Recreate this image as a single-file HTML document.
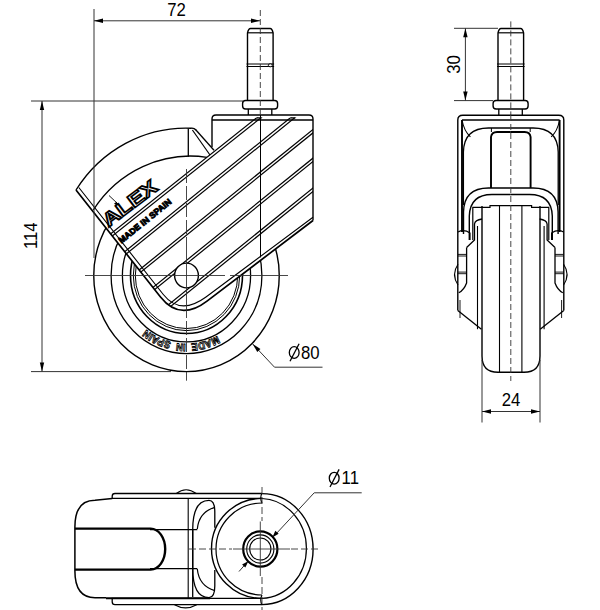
<!DOCTYPE html>
<html><head><meta charset="utf-8"><style>
html,body{margin:0;padding:0;background:#fff;width:600px;height:610px;overflow:hidden}
svg{display:block}
</style></head><body>
<svg width="600" height="610" viewBox="0 0 600 610">
<ellipse cx="186.50" cy="275.50" rx="92.75" ry="96.09" stroke="#000" stroke-width="1.4" fill="none" />
<ellipse cx="186.50" cy="275.50" rx="75.40" ry="78.11" stroke="#000" stroke-width="1.3" fill="none" />
<ellipse cx="186.50" cy="275.50" rx="64.10" ry="66.41" stroke="#000" stroke-width="1.3" fill="none" />
<ellipse cx="186.50" cy="275.50" rx="56.00" ry="58.02" stroke="#000" stroke-width="1.6" fill="none" />
<ellipse cx="186.50" cy="275.50" rx="53.20" ry="55.12" stroke="#000" stroke-width="1.0" fill="none" />
<ellipse cx="186.50" cy="275.50" rx="51.20" ry="53.04" stroke="#000" stroke-width="1.0" fill="none" />
<path id="arcMS" d="M252.50,275.5 A66.0,68.38 0 0 1 120.50,275.5" fill="none"/>
<text font-family="Liberation Sans" font-weight="bold" font-size="10.5" fill="#fff" stroke="#000" stroke-width="0.9" word-spacing="3"><textPath href="#arcMS" startOffset="52.7%" text-anchor="middle" textLength="76" lengthAdjust="spacingAndGlyphs">MADE IN SPAIN</textPath></text>
<path d="M76,190 A131,135.7 0 0 1 193.6,128 L214,150.3 L212,147 L212,117.5 L313,117.5 L313,220.50 L207.0,301.06 Q180.0,321.7 160.5,297.0 Z" stroke="#000" stroke-width="0" fill="#fff" stroke="none"/>
<clipPath id="bodyclip"><path d="M76,190 A131,135.7 0 0 1 193.6,128 L214,150.3 L212,147 L212,117.5 L313,117.5 L313,220.50 L207.0,301.06 Q180.0,321.7 160.5,297.0 Z"/></clipPath>
<path d="M76,190 A131,135.7 0 0 1 191,128.2 Q194,127.8 196,130" stroke="#000" stroke-width="1.4" fill="none" />
<line x1="195.50" y1="129.50" x2="214.00" y2="150.30" stroke="#000" stroke-width="1.3" />
<line x1="192.40" y1="130.00" x2="210.00" y2="155.00" stroke="#000" stroke-width="1.2" />
<line x1="188.30" y1="128.70" x2="188.30" y2="156.70" stroke="#000" stroke-width="1.3" />
<path d="M93.3,210 A116.7,120.9 0 0 1 207,157.3" stroke="#000" stroke-width="1.3" fill="none" />
<path d="M212,147 L212,119 Q212,115 216,115 L309,115 Q313,115 313,119 L313,220.50" stroke="#000" stroke-width="1.4" fill="none" />
<line x1="212.00" y1="120.00" x2="313.00" y2="120.00" stroke="#000" stroke-width="1.3" />
<g clip-path="url(#bodyclip)"><line x1="40" y1="290.02" x2="420" y2="-12.13" stroke="#000" stroke-width="1.2"/><line x1="41.68" y1="292.13" x2="421.68" y2="-10.01" stroke="#000" stroke-width="1.2"/><line x1="40" y1="320.19" x2="420" y2="12.97" stroke="#000" stroke-width="1.2"/><line x1="41.70" y1="322.29" x2="421.70" y2="15.07" stroke="#000" stroke-width="1.2"/><line x1="40" y1="350.14" x2="420" y2="42.89" stroke="#000" stroke-width="1.2"/><line x1="41.70" y1="352.24" x2="421.70" y2="44.99" stroke="#000" stroke-width="1.2"/><line x1="40" y1="378.77" x2="420" y2="71.62" stroke="#000" stroke-width="1.2"/><line x1="41.70" y1="380.87" x2="421.70" y2="73.72" stroke="#000" stroke-width="1.2"/><line x1="40" y1="408.53" x2="420" y2="101.52" stroke="#000" stroke-width="1.2"/><line x1="41.70" y1="410.64" x2="421.70" y2="103.62" stroke="#000" stroke-width="1.2"/></g>
<line x1="256.80" y1="117.90" x2="261.50" y2="117.90" stroke="#000" stroke-width="1.3" />
<line x1="290.60" y1="117.90" x2="295.30" y2="117.90" stroke="#000" stroke-width="1.3" />
<path d="M313,220.50 L207.0,301.06 Q180.0,321.7 160.5,297.0 L76,190" stroke="#000" stroke-width="1.7" fill="none" />
<path d="M313,217.20 L206.0,297.06 Q180.3,315.925 163.305,294.525 L78.805,187.525" stroke="#000" stroke-width="1.1" fill="none" />
<line x1="260.50" y1="115.00" x2="260.50" y2="257.40" stroke="#000" stroke-width="1.0" />
<ellipse cx="186.50" cy="275.50" rx="11.90" ry="12.33" stroke="#000" stroke-width="1.4" fill="#fff" />
<line x1="109.00" y1="195.50" x2="118.00" y2="204.00" stroke="#000" stroke-width="0.9" />
<path d="M118.50,206.50 L114.02,203.77 L116.43,201.67 Z" fill="#000"/>
<line x1="85.00" y1="275.50" x2="225.00" y2="275.50" stroke="#333" stroke-width="0.9" />
<line x1="230.00" y1="275.50" x2="288.00" y2="275.50" stroke="#333" stroke-width="0.9" />
<line x1="186.50" y1="169.00" x2="186.50" y2="250.00" stroke="#333" stroke-width="0.9" stroke-dasharray="14,3"/>
<line x1="186.50" y1="250.00" x2="186.50" y2="318.00" stroke="#333" stroke-width="0.9" />
<line x1="186.50" y1="321.00" x2="186.50" y2="380.70" stroke="#333" stroke-width="0.9" stroke-dasharray="14,3"/>
<text x="0" y="0" font-family="Liberation Sans" font-weight="bold" font-size="19" fill="#fff" stroke="#000" stroke-width="1.6" textLength="63" lengthAdjust="spacingAndGlyphs" transform="translate(108.5,227.5) rotate(-37)">ALEX</text>
<text x="0" y="0" font-family="Liberation Sans" font-weight="bold" font-size="8.5" fill="#000" stroke="#000" stroke-width="0.9" textLength="65" lengthAdjust="spacingAndGlyphs" transform="translate(121.5,243.8) rotate(-39)">MADE IN SPAIN</text>
<line x1="94.00" y1="9.00" x2="94.00" y2="258.00" stroke="#333" stroke-width="1.0" />
<line x1="94.00" y1="20.80" x2="260.00" y2="20.80" stroke="#333" stroke-width="1.0" />
<path d="M94.00,20.80 L103.00,18.60 L103.00,23.00 Z" fill="#000"/>
<path d="M260.00,20.80 L251.00,23.00 L251.00,18.60 Z" fill="#000"/>
<text x="0" y="0" font-family="Liberation Sans" font-size="18" text-anchor="middle" fill="#000" transform="translate(176.5,15.6) rotate(0) scale(0.93,1)">72</text>
<line x1="31.00" y1="101.00" x2="243.00" y2="101.00" stroke="#333" stroke-width="1.0" />
<line x1="31.00" y1="371.60" x2="171.00" y2="371.60" stroke="#333" stroke-width="1.0" />
<line x1="42.00" y1="101.00" x2="42.00" y2="371.60" stroke="#333" stroke-width="1.0" />
<path d="M42.00,101.00 L44.20,110.00 L39.80,110.00 Z" fill="#000"/>
<path d="M42.00,371.60 L39.80,362.60 L44.20,362.60 Z" fill="#000"/>
<text x="0" y="0" font-family="Liberation Sans" font-size="18" text-anchor="middle" fill="#000" transform="translate(37.3,235.7) rotate(-90) scale(0.93,1)">114</text>
<path d="M247.5,100.5 L247.5,33 Q248.5,28.5 250.5,28.5 L270.1,28.5 Q272.1,28.5 273.1,33 L273.1,100.5" stroke="#000" stroke-width="1.4" fill="#fff" />
<line x1="247.50" y1="32.80" x2="273.10" y2="32.80" stroke="#000" stroke-width="1.2" />
<path d="M246.5,64 L274.1,64 M246.5,66.5 L274.1,66.5" stroke="#000" stroke-width="1.0" fill="none" />
<path d="M242.60000000000002,103.5 Q242.60000000000002,100.5 245.60000000000002,100.5 L274.6,100.5 Q277.6,100.5 277.6,103.5 L277.6,106 Q277.6,109 274.6,109 L245.60000000000002,109 Q242.60000000000002,109 242.60000000000002,106 Z" stroke="#000" stroke-width="1.4" fill="#fff" />
<path d="M248.3,109 L248.3,115 M271.8,109 L271.8,115" stroke="#000" stroke-width="1.3" fill="none" />
<line x1="260.30" y1="10.00" x2="260.30" y2="115.00" stroke="#333" stroke-width="0.9" stroke-dasharray="6,3"/>
<ellipse cx="270.30" cy="65.30" rx="2.00" ry="1.50" stroke="#000" stroke-width="1.0" fill="#fff" />
<line x1="260.50" y1="115.00" x2="260.50" y2="257.00" stroke="#000" stroke-width="1.0" />
<line x1="252.70" y1="344.00" x2="274.50" y2="367.20" stroke="#333" stroke-width="1.0" />
<line x1="274.50" y1="367.20" x2="322.50" y2="367.20" stroke="#333" stroke-width="1.0" />
<path d="M252.70,344.00 L260.44,349.09 L257.22,352.09 Z" fill="#000"/>
<text x="0" y="0" font-family="Liberation Sans" font-size="18" text-anchor="middle" fill="#000" transform="translate(310.3,358.7) rotate(0) scale(0.93,1)">80</text>
<ellipse cx="294.2" cy="352.5" rx="4.9" ry="5.9" fill="none" stroke="#000" stroke-width="1.3"/>
<line x1="290.00" y1="361.30" x2="299.10" y2="343.70" stroke="#000" stroke-width="1.3"/>
<path d="M498.0,100.5 L498.0,33 Q499.0,28.5 501.0,28.5 L520.6,28.5 Q522.6,28.5 523.6,33 L523.6,100.5" stroke="#000" stroke-width="1.4" fill="#fff" />
<line x1="498.00" y1="32.80" x2="523.60" y2="32.80" stroke="#000" stroke-width="1.2" />
<path d="M497.0,64 L524.6,64 M497.0,66.5 L524.6,66.5" stroke="#000" stroke-width="1.0" fill="none" />
<path d="M493.1,103.5 Q493.1,100.5 496.1,100.5 L525.1,100.5 Q528.1,100.5 528.1,103.5 L528.1,106 Q528.1,109 525.1,109 L496.1,109 Q493.1,109 493.1,106 Z" stroke="#000" stroke-width="1.4" fill="#fff" />
<path d="M498.8,109 L498.8,115 M522.3,109 L522.3,115" stroke="#000" stroke-width="1.3" fill="none" />
<line x1="510.80" y1="21.40" x2="510.80" y2="115.00" stroke="#333" stroke-width="0.9" stroke-dasharray="6,3"/>
<line x1="454.00" y1="28.30" x2="498.00" y2="28.30" stroke="#333" stroke-width="1.0" />
<line x1="454.00" y1="100.60" x2="493.00" y2="100.60" stroke="#333" stroke-width="1.0" />
<line x1="465.40" y1="28.30" x2="465.40" y2="100.60" stroke="#333" stroke-width="1.0" />
<path d="M465.40,28.30 L467.60,37.30 L463.20,37.30 Z" fill="#000"/>
<path d="M465.40,100.60 L463.20,91.60 L467.60,91.60 Z" fill="#000"/>
<text x="0" y="0" font-family="Liberation Sans" font-size="18" text-anchor="middle" fill="#000" transform="translate(459.8,64.4) rotate(-90) scale(0.93,1)">30</text>
<path d="M457.8,310.5 L457.8,120 Q457.8,115.2 462.8,115.2 L510.8,115.2" stroke="#000" stroke-width="1.4" fill="none" />
<path d="M457.8,310.5 L457.8,120 Q457.8,115.2 462.8,115.2 L510.8,115.2" stroke="#000" stroke-width="1.4" fill="none" transform="translate(1021.6,0) scale(-1,1)"/>
<path d="M462,120 L510.8,120" stroke="#000" stroke-width="1.3" fill="none" />
<path d="M462,120 L510.8,120" stroke="#000" stroke-width="1.3" fill="none" transform="translate(1021.6,0) scale(-1,1)"/>
<path d="M462,120 L462,232" stroke="#000" stroke-width="1.9" fill="none" />
<path d="M462,120 L462,232" stroke="#000" stroke-width="1.9" fill="none" transform="translate(1021.6,0) scale(-1,1)"/>
<path d="M462,120 Q464,131 470.4,136.8" stroke="#000" stroke-width="1.1" fill="none" />
<path d="M462,120 Q464,131 470.4,136.8" stroke="#000" stroke-width="1.1" fill="none" transform="translate(1021.6,0) scale(-1,1)"/>
<path d="M463.4,205 L463.4,152 Q464,128 488.5,128 L510.8,128" stroke="#000" stroke-width="1.3" fill="none" />
<path d="M463.4,205 L463.4,152 Q464,128 488.5,128 L510.8,128" stroke="#000" stroke-width="1.3" fill="none" transform="translate(1021.6,0) scale(-1,1)"/>
<path d="M491,188 L491,137 Q491.5,132.2 497,132 L510.8,132" stroke="#000" stroke-width="1.9" fill="none" />
<path d="M491,188 L491,137 Q491.5,132.2 497,132 L510.8,132" stroke="#000" stroke-width="1.9" fill="none" transform="translate(1021.6,0) scale(-1,1)"/>
<path d="M491.4,128 L491.4,132" stroke="#000" stroke-width="1.0" fill="none" />
<path d="M491.4,128 L491.4,132" stroke="#000" stroke-width="1.0" fill="none" transform="translate(1021.6,0) scale(-1,1)"/>
<path d="M463.5,234 L463.5,212 Q464,188 488.5,188 L510.8,188" stroke="#000" stroke-width="1.4" fill="none" />
<path d="M463.5,234 L463.5,212 Q464,188 488.5,188 L510.8,188" stroke="#000" stroke-width="1.4" fill="none" transform="translate(1021.6,0) scale(-1,1)"/>
<path d="M469.3,240 L469.3,216 Q470,194.5 492,194.5 L510.8,194.5" stroke="#000" stroke-width="1.4" fill="none" />
<path d="M469.3,240 L469.3,216 Q470,194.5 492,194.5 L510.8,194.5" stroke="#000" stroke-width="1.4" fill="none" transform="translate(1021.6,0) scale(-1,1)"/>
<path d="M472.8,240 L472.8,207.3 L490,207.3 L490,205.6 L510.8,205.6" stroke="#000" stroke-width="1.2" fill="none" />
<path d="M472.8,240 L472.8,207.3 L490,207.3 L490,205.6 L510.8,205.6" stroke="#000" stroke-width="1.2" fill="none" transform="translate(1021.6,0) scale(-1,1)"/>
<path d="M477.5,226 L477.5,329.2" stroke="#000" stroke-width="1.1" fill="none" />
<path d="M477.5,226 L477.5,329.2" stroke="#000" stroke-width="1.1" fill="none" transform="translate(1021.6,0) scale(-1,1)"/>
<path d="M457.8,310.5 L481.4,329.2" stroke="#000" stroke-width="1.3" fill="none" />
<path d="M457.8,310.5 L481.4,329.2" stroke="#000" stroke-width="1.3" fill="none" transform="translate(1021.6,0) scale(-1,1)"/>
<path d="M466.6,247.5 L466.6,283 Q464,290 458.8,292.8" stroke="#000" stroke-width="1.3" fill="none" />
<path d="M466.6,247.5 L466.6,283 Q464,290 458.8,292.8" stroke="#000" stroke-width="1.3" fill="none" transform="translate(1021.6,0) scale(-1,1)"/>
<path d="M466.6,247.5 L474.5,240 L474.5,224 Q475,220 482,219" stroke="#000" stroke-width="1.3" fill="none" />
<path d="M466.6,247.5 L474.5,240 L474.5,224 Q475,220 482,219" stroke="#000" stroke-width="1.3" fill="none" transform="translate(1021.6,0) scale(-1,1)"/>
<path d="M458,254.4 L466.6,254.4 M458,256 L466.6,256 M458,272.1 L466.6,272.1 M458,273.7 L466.6,273.7" stroke="#000" stroke-width="0.9" fill="none" />
<path d="M458,254.4 L466.6,254.4 M458,256 L466.6,256 M458,272.1 L466.6,272.1 M458,273.7 L466.6,273.7" stroke="#000" stroke-width="0.9" fill="none" transform="translate(1021.6,0) scale(-1,1)"/>
<path d="M458,264.3 Q451,274.5 458,285" stroke="#000" stroke-width="1.1" fill="none" />
<path d="M458,264.3 Q451,274.5 458,285" stroke="#000" stroke-width="1.1" fill="none" transform="translate(1021.6,0) scale(-1,1)"/>
<path d="M458,232 Q464,229 470,233 L470,240" stroke="#000" stroke-width="1.2" fill="none" />
<path d="M458,232 Q464,229 470,233 L470,240" stroke="#000" stroke-width="1.2" fill="none" transform="translate(1021.6,0) scale(-1,1)"/>
<path d="M460,300 L460,318" stroke="#000" stroke-width="0.9" fill="none" />
<path d="M460,300 L460,318" stroke="#000" stroke-width="0.9" fill="none" transform="translate(1021.6,0) scale(-1,1)"/>
<path d="M482,206 L482,356 Q482,372.3 498,372.3 L524,372.3 Q540,372.3 540,356 L540,206" stroke="#000" stroke-width="1.4" fill="none" />
<line x1="499.50" y1="205.60" x2="499.50" y2="372.00" stroke="#000" stroke-width="1.1" />
<line x1="521.90" y1="205.60" x2="521.90" y2="372.00" stroke="#000" stroke-width="1.1" />
<line x1="510.80" y1="115.00" x2="510.80" y2="381.00" stroke="#333" stroke-width="0.9" stroke-dasharray="6,3"/>
<line x1="482.00" y1="360.00" x2="482.00" y2="422.50" stroke="#333" stroke-width="1.0" />
<line x1="540.00" y1="360.00" x2="540.00" y2="422.50" stroke="#333" stroke-width="1.0" />
<line x1="482.00" y1="411.50" x2="540.00" y2="411.50" stroke="#333" stroke-width="1.0" />
<path d="M482.00,411.50 L491.00,409.30 L491.00,413.70 Z" fill="#000"/>
<path d="M540.00,411.50 L531.00,413.70 L531.00,409.30 Z" fill="#000"/>
<text x="0" y="0" font-family="Liberation Sans" font-size="18" text-anchor="middle" fill="#000" transform="translate(511,405.7) rotate(0) scale(0.93,1)">24</text>
<path d="M262,493.6 A51,55.4 0 0 1 262,604.6" stroke="#000" stroke-width="1.4" fill="none" />
<path d="M262,498.5 A46.5,50.0 0 0 1 262,598.4" stroke="#000" stroke-width="1.2" fill="none" />
<path d="M262,498.4 A50.5,50.0 0 0 0 262,598.4" stroke="#000" stroke-width="1.4" fill="none" />
<path d="M262,503 A46,46 0 0 0 262,595" stroke="#000" stroke-width="1.2" fill="none" />
<path d="M262,493.5 L115,493.5 Q112.2,493.5 112.2,496.3 L112.2,498.4 L262,498.4" stroke="#000" stroke-width="1.3" fill="none" />
<path d="M262,598.3 L112.2,598.3 L112.2,601.8 Q112.2,604.7 115,604.7 L262,604.7" stroke="#000" stroke-width="1.3" fill="none" />
<line x1="106.00" y1="598.20" x2="210.00" y2="598.20" stroke="#000" stroke-width="2.0" />
<path d="M176.3,493.5 Q186,486 196.2,493.5" stroke="#000" stroke-width="1.2" fill="none" />
<path d="M174.5,604.7 Q185.6,611 196.7,604.7" stroke="#000" stroke-width="1.2" fill="none" />
<path d="M262,493 Q259.5,498 262,503 M262,595 Q259.5,600 262,605" stroke="#000" stroke-width="1.2" fill="none" />
<path d="M112.2,498.6 L95,500.3 Q74.9,500.3 74.9,527 L74.9,571 Q74.9,597.7 95,597.7 L106,597.7" stroke="#000" stroke-width="1.5" fill="none" />
<path d="M74.9,528.6 L150.7,528.6 A14.5,20.5 0 0 1 150.7,569.6 L74.9,569.6" stroke="#000" stroke-width="2.4" fill="none" />
<line x1="150.00" y1="529.60" x2="197.30" y2="529.60" stroke="#000" stroke-width="1.1" />
<line x1="150.00" y1="568.60" x2="197.30" y2="568.60" stroke="#000" stroke-width="1.1" />
<line x1="188.20" y1="498.40" x2="188.20" y2="598.30" stroke="#000" stroke-width="1.1" />
<path d="M192.7,597 L192.7,530 Q192.7,500.4 209,500.4 Q214.8,500.4 214.8,512 L214.8,527.8" stroke="#000" stroke-width="1.3" fill="none" />
<path d="M197.3,529 Q199,512 214.8,507.4" stroke="#000" stroke-width="1.2" fill="none" />
<path d="M192.7,530 L192.7,568 Q192.7,597.6 209,597.6 Q214.8,597.6 214.8,586 L214.8,570" stroke="#000" stroke-width="1.3" fill="none" />
<path d="M197.3,569 Q199,586 214.8,590.6" stroke="#000" stroke-width="1.2" fill="none" />
<ellipse cx="260.30" cy="549.00" rx="17.10" ry="17.72" stroke="#000" stroke-width="2.2" fill="#fff" />
<ellipse cx="260.30" cy="549.00" rx="13.60" ry="14.09" stroke="#000" stroke-width="1.1" fill="none" />
<ellipse cx="260.30" cy="549.00" rx="10.60" ry="10.98" stroke="#000" stroke-width="1.1" fill="none" />
<line x1="260.30" y1="521.50" x2="260.30" y2="576.00" stroke="#333" stroke-width="0.9" />
<line x1="233.00" y1="549.00" x2="290.00" y2="549.00" stroke="#333" stroke-width="0.9" />
<line x1="262.00" y1="487.00" x2="262.00" y2="521.00" stroke="#333" stroke-width="0.9" stroke-dasharray="7,3"/>
<line x1="262.00" y1="577.00" x2="262.00" y2="610.00" stroke="#333" stroke-width="0.9" stroke-dasharray="7,3"/>
<line x1="189.00" y1="549.00" x2="232.00" y2="549.00" stroke="#333" stroke-width="0.9" stroke-dasharray="7,3"/>
<line x1="291.00" y1="549.00" x2="320.00" y2="549.00" stroke="#333" stroke-width="0.9" stroke-dasharray="7,3"/>
<line x1="239.00" y1="571.50" x2="246.00" y2="563.50" stroke="#333" stroke-width="1.0" />
<path d="M248.50,561.00 L245.32,567.61 L242.11,564.60 Z" fill="#000"/>
<line x1="275.00" y1="535.00" x2="314.20" y2="492.80" stroke="#333" stroke-width="1.0" />
<path d="M272.30,537.50 L275.32,530.81 L278.60,533.75 Z" fill="#000"/>
<line x1="314.20" y1="492.80" x2="361.70" y2="492.80" stroke="#333" stroke-width="1.0" />
<text x="0" y="0" font-family="Liberation Sans" font-size="18" text-anchor="middle" fill="#000" transform="translate(350.3,484.3) rotate(0) scale(0.93,1)">11</text>
<ellipse cx="334.2" cy="478.2" rx="4.9" ry="5.9" fill="none" stroke="#000" stroke-width="1.3"/>
<line x1="330.00" y1="487.00" x2="339.10" y2="469.40" stroke="#000" stroke-width="1.3"/>
</svg>
</body></html>
